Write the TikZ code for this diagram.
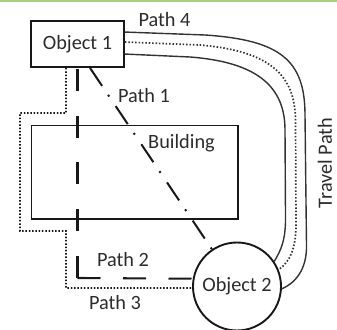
\documentclass[tikz,border=0pt]{standalone}
\usepackage{fontspec}
\setmainfont{Carlito}
\definecolor{ink}{HTML}{181818}
\definecolor{txt}{HTML}{2C2C2C}
\definecolor{lineg}{HTML}{333333}
\definecolor{topgreen}{HTML}{A3D47C}
\begin{document}
\begin{tikzpicture}[x=1pt,y=-1pt,
  lbl/.style={text=txt, font=\fontsize{20.3}{22}\selectfont, inner sep=0pt},
  objbox/.style={lbl, draw=ink, line width=1.9pt, minimum width=93pt, minimum height=46pt},
  objcirc/.style={lbl, circle, draw=ink, line width=1.9pt, minimum size=88pt},
  bldgbox/.style={draw=ink, line width=1.9pt, minimum width=206.5pt, minimum height=93.5pt, inner sep=0pt},
  pone/.style={draw=ink, line width=2pt, dash pattern=on 21.6pt off 10.8pt on 2pt off 11.6pt},
  ptwov/.style={draw=ink, line width=2.1pt, dash pattern=on 22pt off 24.8pt},
  ptwoh/.style={draw=ink, line width=2.1pt, dash pattern=on 23pt off 22.5pt},
  pthree/.style={draw=ink, line width=1.7pt, dash pattern=on 1.5pt off 1.8pt},
  pfour/.style={draw=lineg, line width=1.4pt},
  pfourdot/.style={draw=lineg, line width=1.7pt, dash pattern=on 1.5pt off 1.9pt}
]
\useasboundingbox (0,0) rectangle (337,329);
\fill[topgreen] (0,0) rectangle (337,2);

% shapes
\node[bldgbox] (bldg) at (134.75,172.25) {};
\node[objbox] (obj1) at (77.5,44) {Object 1};
\node[objcirc] (obj2) at (237,286.5) {Object 2};

% labels
\node[lbl] (lbuild) at (181.5,143.5) {Building};
\node[lbl] (lp4) at (164.5,19.5) {Path 4};
\node[lbl] (lp1) at (144,95.5) {Path 1};
\node[lbl] (lp2) at (123,260) {Path 2};
\node[lbl] (lp3) at (115,303) {Path 3};
\node[lbl, rotate=90] (ltravel) at (325,163) {Travel Path};

% Path 1 (dash-dot)
\draw[pone] ([xshift=12.5pt]obj1.south) -- (obj2);

% Path 2 (dashed, L-shaped)
\coordinate (c2) at (77.5,278);
\draw[ptwov] (c2) -- (obj1.south);
\draw[ptwoh] (c2) -- (obj2.170);

% Path 3 (dotted, stepped)
\coordinate (b1) at (66,113);
\coordinate (b2) at (20,113);
\coordinate (b3) at (20,231);
\coordinate (b4) at (66,231);
\coordinate (b5) at (66,288);
\draw[pthree] ([xshift=-11.5pt]obj1.south) -- (b1) -- (b2) -- (b3) -- (b4) -- (b5) -- (obj2.182);

% Path 4 (travel path: two solid borders and dotted centre)
\draw[pfour] ([yshift=-12pt]obj1.north east) -- (205,35)
  .. controls (280,40) and (305,60) .. (305,115) -- (306.5,245)
  .. controls (307,270) and (295,283) .. (obj2.-3);
\draw[pfourdot] ([yshift=-22pt]obj1.north east) -- (200,45)
  .. controls (270,51) and (295,75) .. (295.5,120) -- (296,225)
  .. controls (296,248) and (290,262) .. (obj2.22);
\draw[pfour] ([yshift=-34pt]obj1.north east) -- (190,57)
  .. controls (255,62) and (285,85) .. (285,130) -- (285.5,215)
  .. controls (286,240) and (281,250) .. (obj2.34);
\end{tikzpicture}
\end{document}
